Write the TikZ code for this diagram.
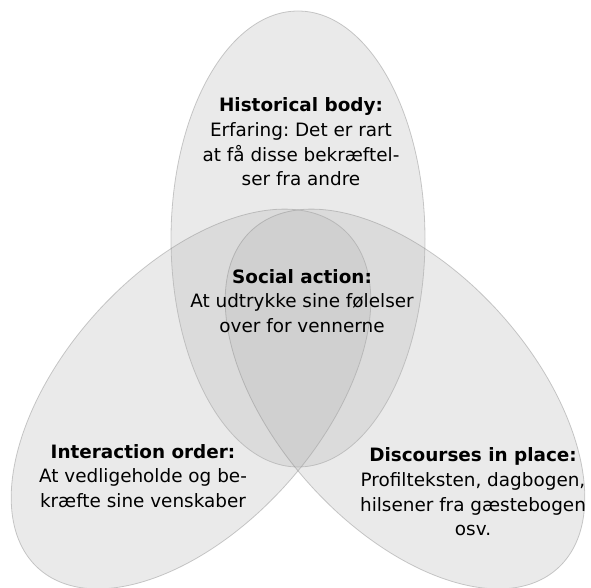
\documentclass[tikz,border=0pt]{standalone}
\usepackage{fontspec}
\setmainfont{DejaVu Sans}
\usepackage{tikz}
\frenchspacing

\begin{document}
\begin{tikzpicture}[x=1pt,y=1pt,
  petal/.style={fill=black!30,fill opacity=0.27,draw=black!45,draw opacity=0.45,line width=0.8pt},
  venn text/.style={align=center,font=\fontsize{18.4}{24.6}\selectfont,inner sep=0pt}]
  \useasboundingbox (0,0) rectangle (591,587);
  % the three ellipses
  \path[petal] (298,348) ellipse [x radius=127, y radius=228];
  \path[petal,rotate around={-42:(191,188)}] (191,188) ellipse [x radius=128, y radius=228];
  \path[petal,rotate around={42:(405,188)}] (405,188) ellipse [x radius=128, y radius=228];
  % texts
  \node[venn text] (hist) at (301,445) {\textbf{Historical body:}\\Erfaring: Det er rart\\at få disse bekræftel-\\ser fra andre};
  \node[venn text] (social) at (302,286) {\textbf{Social action:}\\At udtrykke sine følelser\\over for vennerne};
  \node[venn text] (inter) at (143,111) {\textbf{Interaction order:}\\At vedligeholde og be-\\kræfte sine venskaber};
  \node[venn text] (disc) at (473,95) {\textbf{Discourses in place:}\\Profilteksten, dagbogen,\\hilsener fra gæstebogen\\osv.};
\end{tikzpicture}
\end{document}
